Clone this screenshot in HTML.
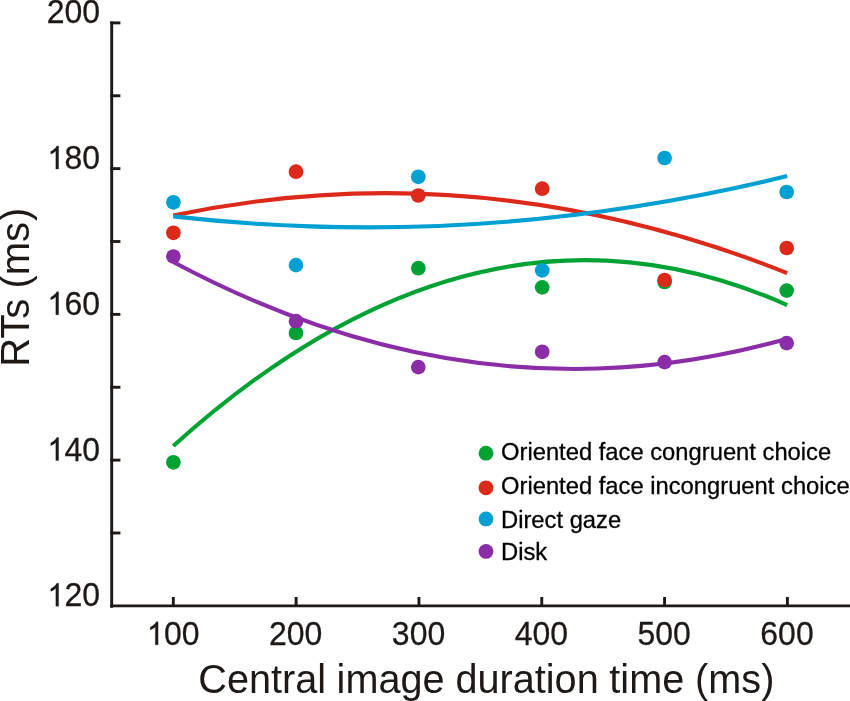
<!DOCTYPE html>
<html><head><meta charset="utf-8"><style>
html,body{margin:0;padding:0;background:#fff;}
svg{display:block;will-change:transform;}
text{font-family:"Liberation Sans", sans-serif;}
</style></head><body>
<svg width="850" height="701" viewBox="0 0 850 701">
<g fill="#1c1917"><text transform="translate(46.71,23.30) scale(1.0,1.03)" font-size="32" stroke="#1c1917" stroke-width="0.25">200</text><path transform="translate(46.71,169.04) scale(0.01562,-0.01562)" d="M763,0L583,0L583,1147Q518,1085 420,1030Q322,975 258,955L258,1125Q390,1190 492,1283Q600,1380 647,1472L763,1472Z" stroke="#1c1917" stroke-width="16.00"/><text transform="translate(64.51,169.04) scale(1.0,1.03)" font-size="32" stroke="#1c1917" stroke-width="0.25">80</text><path transform="translate(46.71,314.78) scale(0.01562,-0.01562)" d="M763,0L583,0L583,1147Q518,1085 420,1030Q322,975 258,955L258,1125Q390,1190 492,1283Q600,1380 647,1472L763,1472Z" stroke="#1c1917" stroke-width="16.00"/><text transform="translate(64.51,314.78) scale(1.0,1.03)" font-size="32" stroke="#1c1917" stroke-width="0.25">60</text><path transform="translate(46.71,460.52) scale(0.01562,-0.01562)" d="M763,0L583,0L583,1147Q518,1085 420,1030Q322,975 258,955L258,1125Q390,1190 492,1283Q600,1380 647,1472L763,1472Z" stroke="#1c1917" stroke-width="16.00"/><text transform="translate(64.51,460.52) scale(1.0,1.03)" font-size="32" stroke="#1c1917" stroke-width="0.25">40</text><path transform="translate(46.71,606.26) scale(0.01562,-0.01562)" d="M763,0L583,0L583,1147Q518,1085 420,1030Q322,975 258,955L258,1125Q390,1190 492,1283Q600,1380 647,1472L763,1472Z" stroke="#1c1917" stroke-width="16.00"/><text transform="translate(64.51,606.26) scale(1.0,1.03)" font-size="32" stroke="#1c1917" stroke-width="0.25">20</text><path transform="translate(146.20,644.80) scale(0.01562,-0.01562)" d="M763,0L583,0L583,1147Q518,1085 420,1030Q322,975 258,955L258,1125Q390,1190 492,1283Q600,1380 647,1472L763,1472Z" stroke="#1c1917" stroke-width="16.00"/><text transform="translate(164.00,644.80) scale(1.0,1.03)" font-size="32" stroke="#1c1917" stroke-width="0.25">00</text><text transform="translate(269.02,644.80) scale(1.0,1.03)" font-size="32" stroke="#1c1917" stroke-width="0.25">200</text><text transform="translate(391.84,644.80) scale(1.0,1.03)" font-size="32" stroke="#1c1917" stroke-width="0.25">300</text><text transform="translate(514.66,644.80) scale(1.0,1.03)" font-size="32" stroke="#1c1917" stroke-width="0.25">400</text><text transform="translate(637.48,644.80) scale(1.0,1.03)" font-size="32" stroke="#1c1917" stroke-width="0.25">500</text><text transform="translate(760.30,644.80) scale(1.0,1.03)" font-size="32" stroke="#1c1917" stroke-width="0.25">600</text></g><g fill="#1c1917"><text transform="translate(198.3,692.5) scale(0.9912,1.0)" font-size="40" letter-spacing="0">Central<tspan dx="-0.5"> image</tspan><tspan dx="-0.1"> duration</tspan><tspan dx="-0.4"> time</tspan><tspan dx="-0.1"> (ms)</tspan></text><text transform="translate(29.1,366.8) rotate(-90) scale(1.0,1.0)" font-size="40" letter-spacing="0">RTs<tspan dx="-1.1"> (ms</tspan><tspan dx="1.0">)</tspan></text></g>
<g><line x1="111.7" y1="21.45" x2="111.7" y2="607.8" stroke="#1c1917" stroke-width="2.9"/><line x1="110.15" y1="605.85" x2="850" y2="605.85" stroke="#1c1917" stroke-width="2.9"/><line x1="110.25" y1="22.90" x2="120.4" y2="22.90" stroke="#1c1917" stroke-width="2.9"/><line x1="110.25" y1="95.77" x2="120.4" y2="95.77" stroke="#1c1917" stroke-width="2.9"/><line x1="110.25" y1="168.64" x2="120.4" y2="168.64" stroke="#1c1917" stroke-width="2.9"/><line x1="110.25" y1="241.51" x2="120.4" y2="241.51" stroke="#1c1917" stroke-width="2.9"/><line x1="110.25" y1="314.38" x2="120.4" y2="314.38" stroke="#1c1917" stroke-width="2.9"/><line x1="110.25" y1="387.25" x2="120.4" y2="387.25" stroke="#1c1917" stroke-width="2.9"/><line x1="110.25" y1="460.12" x2="120.4" y2="460.12" stroke="#1c1917" stroke-width="2.9"/><line x1="110.25" y1="532.99" x2="120.4" y2="532.99" stroke="#1c1917" stroke-width="2.9"/><line x1="173.30" y1="597" x2="173.30" y2="605.85" stroke="#1c1917" stroke-width="2.9"/><line x1="296.12" y1="597" x2="296.12" y2="605.85" stroke="#1c1917" stroke-width="2.9"/><line x1="418.94" y1="597" x2="418.94" y2="605.85" stroke="#1c1917" stroke-width="2.9"/><line x1="541.76" y1="597" x2="541.76" y2="605.85" stroke="#1c1917" stroke-width="2.9"/><line x1="664.58" y1="597" x2="664.58" y2="605.85" stroke="#1c1917" stroke-width="2.9"/><line x1="787.40" y1="597" x2="787.40" y2="605.85" stroke="#1c1917" stroke-width="2.9"/></g>
<g><path d="M173.30,446.00 Q480.25,168.77 787.20,305.05" fill="none" stroke="#00a333" stroke-width="4.1" stroke-linecap="butt"/><circle cx="173.40" cy="462.30" r="7.35" fill="#00a333"/><circle cx="296.00" cy="333.00" r="7.35" fill="#00a333"/><circle cx="418.30" cy="268.20" r="7.35" fill="#00a333"/><circle cx="542.20" cy="287.40" r="7.35" fill="#00a333"/><circle cx="664.60" cy="282.00" r="7.35" fill="#00a333"/><circle cx="786.70" cy="290.60" r="7.35" fill="#00a333"/></g><g><path d="M173.30,215.57 Q480.25,150.87 787.20,273.05" fill="none" stroke="#dc291a" stroke-width="4.1" stroke-linecap="butt"/><circle cx="173.40" cy="232.80" r="7.35" fill="#dc291a"/><circle cx="296.00" cy="171.70" r="7.35" fill="#dc291a"/><circle cx="418.30" cy="195.50" r="7.35" fill="#dc291a"/><circle cx="542.20" cy="188.70" r="7.35" fill="#dc291a"/><circle cx="664.60" cy="280.00" r="7.35" fill="#dc291a"/><circle cx="786.70" cy="248.00" r="7.35" fill="#dc291a"/></g><g><path d="M173.30,216.35 Q480.25,251.05 787.20,176.11" fill="none" stroke="#00a0d2" stroke-width="4.1" stroke-linecap="butt"/><circle cx="173.40" cy="202.30" r="7.35" fill="#00a0d2"/><circle cx="296.00" cy="265.10" r="7.35" fill="#00a0d2"/><circle cx="418.30" cy="176.80" r="7.35" fill="#00a0d2"/><circle cx="542.20" cy="270.40" r="7.35" fill="#00a0d2"/><circle cx="664.60" cy="158.00" r="7.35" fill="#00a0d2"/><circle cx="786.70" cy="192.00" r="7.35" fill="#00a0d2"/></g><g><path d="M173.30,262.01 Q480.25,425.89 787.20,338.69" fill="none" stroke="#8c2da8" stroke-width="4.1" stroke-linecap="butt"/><circle cx="173.40" cy="256.50" r="7.35" fill="#8c2da8"/><circle cx="296.00" cy="321.20" r="7.35" fill="#8c2da8"/><circle cx="418.30" cy="367.10" r="7.35" fill="#8c2da8"/><circle cx="542.20" cy="351.80" r="7.35" fill="#8c2da8"/><circle cx="664.60" cy="362.10" r="7.35" fill="#8c2da8"/><circle cx="786.70" cy="343.10" r="7.35" fill="#8c2da8"/></g>
<circle cx="486" cy="453.2" r="7.4" fill="#00a333"/><text transform="translate(501,459.8) scale(0.9903,1.0)" font-size="24" fill="#000" stroke="#000" stroke-width="0.3" letter-spacing="0">Oriented face congruent choice</text><circle cx="486" cy="487.8" r="7.4" fill="#dc291a"/><text transform="translate(501,494.4) scale(0.9903,1.0)" font-size="24" fill="#000" stroke="#000" stroke-width="0.3" letter-spacing="0">Oriented face incongruent choice</text><circle cx="486" cy="518.9" r="7.4" fill="#00a0d2"/><text transform="translate(501,527.7) scale(0.9903,1.0)" font-size="24" fill="#000" stroke="#000" stroke-width="0.3" letter-spacing="0">Direct gaze</text><circle cx="486" cy="551.4" r="7.4" fill="#8c2da8"/><text transform="translate(501,560.4) scale(0.9903,1.0)" font-size="24" fill="#000" stroke="#000" stroke-width="0.3" letter-spacing="0">Disk</text>
</svg>
</body></html>
